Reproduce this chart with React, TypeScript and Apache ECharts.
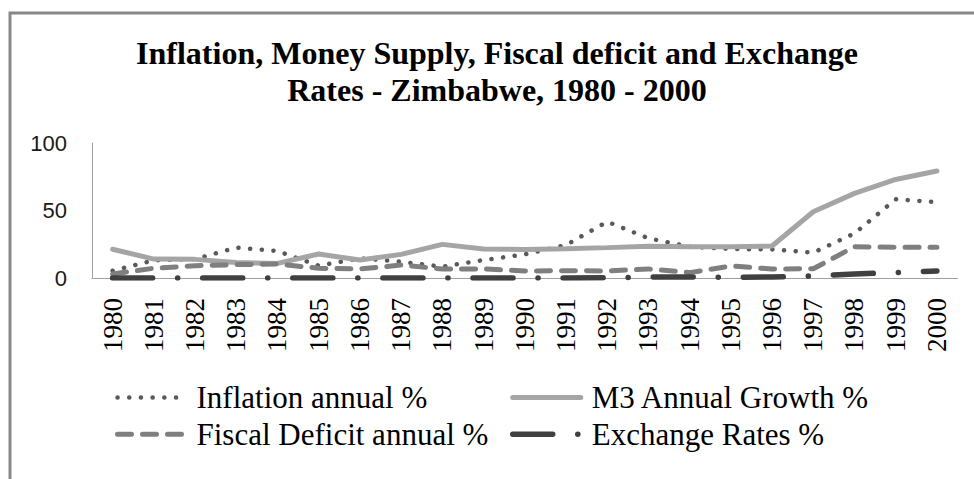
import React, { useEffect, useRef } from "react";
import * as echarts from "echarts";

const years = ["1980","1981","1982","1983","1984","1985","1986","1987","1988","1989","1990","1991","1992","1993","1994","1995","1996","1997","1998","1999","2000"];
const inflation = [5.4, 13.1, 14, 22.5, 20, 9.1, 14.6, 12, 8.4, 13.3, 17.5, 24.4, 41.7, 29.4, 23.2, 21.5, 21.2, 18.8, 33, 58.3, 56.2];
const m3Growth = [21.3, 14, 13.8, 11.4, 10.8, 17.8, 13.3, 17.5, 24.9, 21.5, 21.2, 21.7, 22.5, 23.5, 23.2, 23.2, 23.7, 49.1, 62.7, 73, 79.3];
const fiscalDeficit = [3, 7.2, 9.1, 9.9, 10.4, 7.2, 6.7, 9.6, 6.7, 6.7, 5.2, 5.4, 5.2, 6.7, 4, 8.9, 6.7, 6.8, 23.2, 22.7, 22.7];
const exchangeRates = [0, 0, 0, 0, 0, 0, 0, 0, 0, 0, 0, 0, 0.2, 0.7, 0.7, 0.6, 0.7, 1.5, 3, 4, 5.2];
const yTicks = { min: 0, max: 100, interval: 50 };

const titleText = "Inflation, Money Supply, Fiscal deficit and Exchange\nRates - Zimbabwe, 1980 - 2000";

export default function App() {
  const ref = useRef<HTMLDivElement>(null);
  useEffect(() => {
    if (!ref.current) return;
    const chart = echarts.init(ref.current, null, { renderer: "svg" });
    const serif = '"Liberation Serif", "Times New Roman", serif';
    const legendText = { fontFamily: serif, fontSize: 31, color: "#000", lineHeight: 31, padding: [0, 0, 0, 6] };
    const legendCommon = {
      orient: "vertical",
      top: 377,
      itemWidth: 68,
      itemHeight: 14,
      itemGap: 5.7,
      textStyle: legendText,
      itemStyle: { opacity: 0, borderWidth: 0 },
      lineStyle: { width: "inherit", type: "inherit", cap: "inherit" },
    };
    chart.setOption({
      animation: false,
      backgroundColor: "#fff",
      graphic: [
        {
          type: "rect",
          shape: { x: 10, y: 13, width: 1000, height: 1000 },
          style: { fill: "none", stroke: "#878787", lineWidth: 3 },
          z: 0,
        },
        {
          type: "text",
          x: 497,
          y: 34,
          style: {
            text: titleText,
            font: 'bold 32px "Liberation Serif"',
            lineHeight: 37,
            align: "center",
            verticalAlign: "top",
            fill: "#000",
          },
        },
      ],
      grid: { left: 92, right: 16.5, top: 143, bottom: 201 },
      xAxis: {
        type: "category",
        data: years,
        boundaryGap: true,
        axisLine: { show: true, lineStyle: { color: "#a0a0a0", width: 1 } },
        axisTick: { show: false },
        axisLabel: {
          rotate: 90,
          margin: 20,
          interval: 0,
          fontFamily: serif,
          fontSize: 27,
          color: "#000",
        },
        splitLine: { show: false },
      },
      yAxis: {
        type: "value",
        min: yTicks.min,
        max: yTicks.max,
        interval: yTicks.interval,
        axisLine: { show: true, lineStyle: { color: "#a0a0a0", width: 1 } },
        axisTick: { show: false },
        splitLine: { show: false },
        axisLabel: { margin: 25, fontFamily: "Liberation Sans", fontSize: 22, color: "#1a1a1a" },
      },
      legend: [
        { ...legendCommon, left: 110, data: ["Inflation annual %", "Fiscal Deficit annual %"] },
        { ...legendCommon, left: 505, data: ["M3 Annual Growth %", "Exchange Rates %"] },
      ],
      series: [
        {
          name: "Inflation annual %",
          type: "line",
          data: inflation,
          symbol: "none",
          color: "#595959",
          lineStyle: { color: "#595959", width: 4.5, type: [0.1, 11.6], cap: "round" },
        },
        {
          name: "M3 Annual Growth %",
          type: "line",
          data: m3Growth,
          symbol: "none",
          color: "#a5a5a5",
          lineStyle: { color: "#a5a5a5", width: 5, type: "solid", cap: "round" },
        },
        {
          name: "Fiscal Deficit annual %",
          type: "line",
          data: fiscalDeficit,
          symbol: "none",
          color: "#7f7f7f",
          lineStyle: { color: "#7f7f7f", width: 5, type: [14, 11], cap: "round" },
        },
        {
          name: "Exchange Rates %",
          type: "line",
          data: exchangeRates,
          symbol: "none",
          color: "#404040",
          lineStyle: { color: "#404040", width: 5.5, type: [40, 25, 0.1, 25], cap: "round" },
        },
      ],
    });
    return () => chart.dispose();
  }, []);
  return (
    <div
      ref={ref}
      style={{ position: "fixed", left: 0, top: 0, width: 974, height: 479, background: "#fff" }}
    />
  );
}
